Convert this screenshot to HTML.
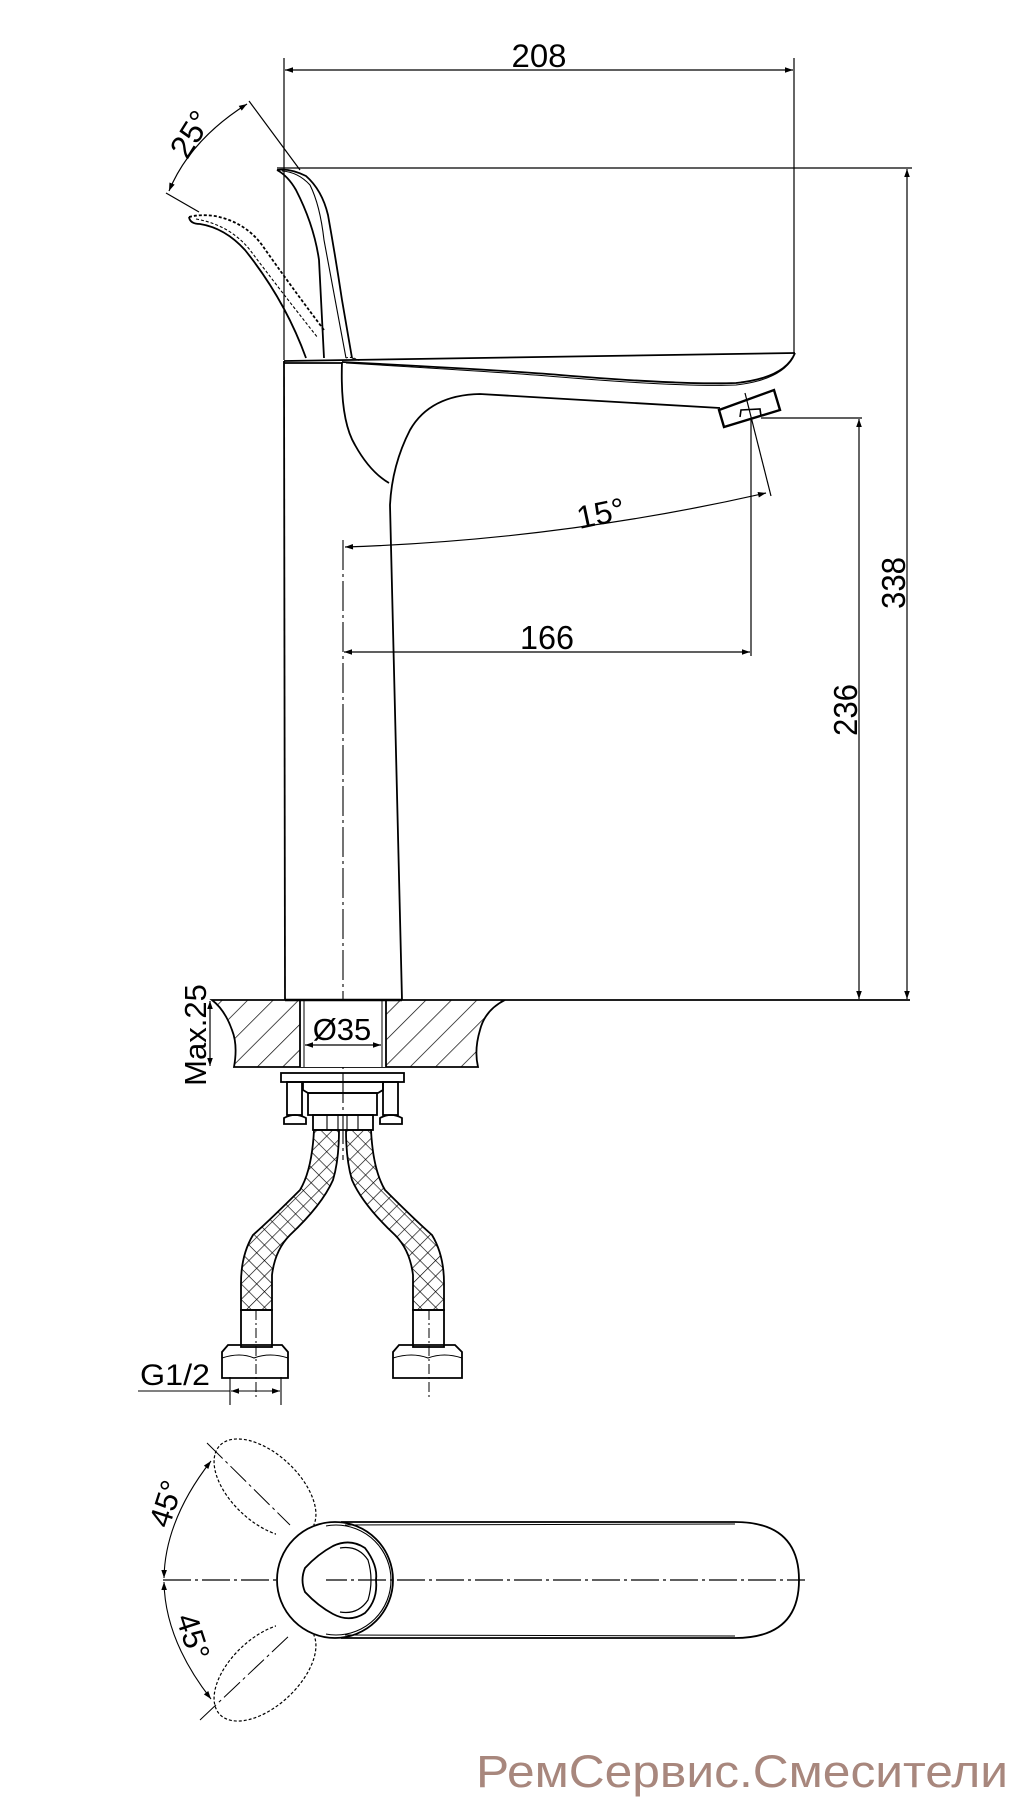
<!DOCTYPE html>
<html><head><meta charset="utf-8"><style>
html,body{margin:0;padding:0;background:#fff}
svg{display:block}
text{font-family:"Liberation Sans",sans-serif;fill:#000}
</style></head><body>
<svg width="1021" height="1800" viewBox="0 0 1021 1800" xmlns="http://www.w3.org/2000/svg">
<defs>
<marker id="a" viewBox="0 0 10 10" refX="10" refY="5" markerWidth="13" markerHeight="8" markerUnits="userSpaceOnUse" orient="auto-start-reverse"><path d="M0,1.5 L10,5 L0,8.5 z" fill="#000"/></marker>
<pattern id="h" width="18" height="18" patternUnits="userSpaceOnUse" patternTransform="rotate(45)"><line x1="0" y1="0" x2="0" y2="18" stroke="#000" stroke-width="1.4"/></pattern>
<pattern id="x" width="11" height="11" patternUnits="userSpaceOnUse" patternTransform="rotate(45)"><path d="M0,0 V11 M0,0 H11" stroke="#000" stroke-width="1.3" fill="none"/></pattern>
</defs>
<g fill="none" stroke="#000" stroke-width="1.8">
<line x1="284" y1="58" x2="284" y2="360" stroke-width="1.2"/>
<line x1="794" y1="58" x2="794" y2="354" stroke-width="1.2"/>
<line x1="285" y1="70" x2="793" y2="70" stroke-width="1.2" marker-start="url(#a)" marker-end="url(#a)"/>
<line x1="277" y1="168" x2="912" y2="168" stroke-width="1.2"/>
<line x1="907" y1="169" x2="907" y2="999" stroke-width="1.2" marker-start="url(#a)" marker-end="url(#a)"/>
<line x1="761" y1="418" x2="862" y2="418" stroke-width="1.2"/>
<line x1="859" y1="419" x2="859" y2="999" stroke-width="1.2" marker-start="url(#a)" marker-end="url(#a)"/>
<line x1="751" y1="418" x2="751" y2="656" stroke-width="1.2"/>
<line x1="344" y1="652" x2="750" y2="652" stroke-width="1.2" marker-start="url(#a)" marker-end="url(#a)"/>
<line x1="745" y1="393" x2="771" y2="496" stroke-width="1.2"/>
<path d="M766,493 Q560,540 345,547" stroke-width="1.2" marker-start="url(#a)" marker-end="url(#a)"/>
<line x1="249" y1="101" x2="300" y2="170" stroke-width="1.2"/>
<line x1="166" y1="193" x2="199" y2="212" stroke-width="1.2"/>
<path d="M247,104 Q190,140 169,191" stroke-width="1.2" marker-start="url(#a)" marker-end="url(#a)"/>
<path d="M277,170 Q290,168 306,176 Q322,190 328,215 Q336,260 342,300 L352,358" />
<path d="M282,171 Q298,172 310,185 Q320,205 324,240 L346,358" stroke-width="1.1"/>
<path d="M277,170 Q288,176 296,190 Q314,225 319,260 L324,358"/>
<path d="M189,217 Q200,214 215,216 Q245,222 262,245 Q290,285 324,330" stroke-dasharray="3,2"/>
<path d="M189,217 Q190,224 200,224 Q225,228 245,250 Q285,300 306,358" />
<path d="M196,219 Q230,225 250,250 Q280,290 318,338" stroke-dasharray="3,2" stroke-width="1.1"/>
<path d="M352,358 L358,360 M346,358 Q352,356 360,361" stroke-width="1" stroke-dasharray="2,2"/>
<path d="M284,361 L285,1000"/>
<line x1="284" y1="361" x2="795" y2="353"/>
<path d="M284,363 L342,363"/>
<path d="M342,362 Q500,370 560,375 Q680,385 736,383 Q785,378 795,353"/>
<path d="M346,363 Q500,372 560,377 Q680,387 736,385 Q780,380 793,358" stroke-width="1"/>
<path d="M342,362 Q340,420 355,445 Q370,472 389,483"/>
<path d="M720,408 L480,394 Q430,395 410,430 Q392,465 390,505 L402,1000"/>
<path d="M719,410 L774,390 L780,410 L724,427 Z" stroke-width="2.4"/>
<path d="M740,417 L741,410 L760,409 L761,416" stroke-width="1.6"/>
<line x1="343" y1="540" x2="343" y2="1160" stroke-width="1.1" stroke-dasharray="30,4,3,4"/>
<path d="M212,1000 L505,1000 Q485,1010 480,1030 Q474,1050 478,1067 L234,1067 Q238,1045 232,1030 Q225,1010 212,1000 Z" fill="url(#h)"/>
<rect x="300" y="1000" width="86" height="67" fill="#fff" stroke="none"/>
<line x1="505" y1="1000" x2="910" y2="1000"/>
<line x1="285" y1="1000" x2="402" y2="1000" stroke-width="2.4"/>
<line x1="300" y1="1000" x2="300" y2="1067"/><line x1="304" y1="1000" x2="304" y2="1067" stroke-width="1"/>
<line x1="382" y1="1000" x2="382" y2="1067" stroke-width="1"/><line x1="386" y1="1000" x2="386" y2="1067"/>
<line x1="305" y1="1045" x2="381" y2="1045" stroke-width="1.2" marker-start="url(#a)" marker-end="url(#a)"/>
<line x1="210" y1="1001" x2="210" y2="1066" stroke-width="1.2" marker-start="url(#a)" marker-end="url(#a)"/>
<rect x="281" y="1073" width="123" height="9"/>
<rect x="287" y="1082" width="15" height="33"/>
<path d="M284,1124 L284,1118 Q295,1112 306,1118 L306,1124 Z"/>
<rect x="383" y="1082" width="15" height="33"/>
<path d="M380,1124 L380,1118 Q391,1112 402,1118 L402,1124 Z"/>
<path d="M303,1082 L383,1082 L383,1090 L378,1093 L308,1093 L303,1090 Z"/>
<rect x="308" y="1093" width="69" height="22"/>
<rect x="313" y="1115" width="60" height="15"/>
<path d="M327,1115 V1130 M338,1115 V1130 M347,1115 V1130 M358,1115 V1130" stroke-width="1.1"/>
<path d="M314,1130 Q312,1170 300,1190 Q270,1220 253,1235 Q241,1255 241,1283 L241,1310 L272,1310 L272,1275 Q275,1250 290,1235 Q322,1205 333,1180 Q339,1160 339,1130 Z" fill="url(#x)"/>
<path d="M371,1130 Q373,1170 385,1190 Q415,1220 432,1235 Q444,1255 444,1283 L444,1310 L413,1310 L413,1275 Q410,1250 395,1235 Q363,1205 352,1180 Q346,1160 346,1130 Z" fill="url(#x)"/>
<rect x="241" y="1310" width="31" height="37"/>
<rect x="413" y="1310" width="31" height="37"/>
<line x1="256" y1="1310" x2="256" y2="1400" stroke-width="1" stroke-dasharray="10,3,2,3"/>
<line x1="429" y1="1310" x2="429" y2="1400" stroke-width="1" stroke-dasharray="10,3,2,3"/>
<path d="M222,1352 L228,1345 L282,1345 L288,1352 L288,1378 L222,1378 Z"/>
<path d="M222,1358 Q240,1352 254,1358 Q270,1352 288,1358" stroke-width="1.1"/>
<path d="M393,1352 L399,1345 L455,1345 L462,1352 L462,1378 L393,1378 Z"/>
<path d="M393,1358 Q412,1352 428,1358 Q444,1352 462,1358" stroke-width="1.1"/>
<line x1="230" y1="1377" x2="230" y2="1405" stroke-width="1.1"/>
<line x1="281" y1="1377" x2="281" y2="1405" stroke-width="1.1"/>
<line x1="138" y1="1391" x2="230" y2="1391" stroke-width="1.1"/>
<line x1="231" y1="1391" x2="280" y2="1391" stroke-width="1.1" marker-start="url(#a)" marker-end="url(#a)"/>
<line x1="163" y1="1580" x2="805" y2="1580" stroke-width="1.2" stroke-dasharray="28,4,3,4"/>
<path d="M341,1522 L735,1522 Q799,1522 799,1580 Q799,1638 735,1638 L341,1638"/>
<path d="M345,1525 L735,1524 M345,1635 L735,1636" stroke-width="1"/>
<circle cx="336" cy="1580" r="55" stroke-width="1.1"/>
<ellipse cx="265" cy="1488" rx="62" ry="34" transform="rotate(43 265 1488)" stroke-dasharray="3,2" stroke-width="1.2"/>
<ellipse cx="265" cy="1672" rx="62" ry="34" transform="rotate(-43 265 1672)" stroke-dasharray="3,2" stroke-width="1.2"/>
<rect x="276" y="1525" width="50" height="110" fill="#fff" stroke="none"/>
<circle cx="335" cy="1580" r="58"/>
<path d="M333,1546 Q350,1538 365,1548 Q378,1565 376,1580 Q378,1600 365,1613 Q350,1623 333,1614 Q318,1606 305,1592 Q300,1580 305,1568 Q318,1554 333,1546 Z"/>
<path d="M340,1548 Q358,1545 368,1560 Q374,1580 368,1600 Q358,1615 340,1612" stroke-width="1.2"/>
<line x1="207" y1="1443" x2="290" y2="1525" stroke-width="1" stroke-dasharray="22,4,3,4"/>
<line x1="200" y1="1720" x2="290" y2="1635" stroke-width="1" stroke-dasharray="22,4,3,4"/>
<path d="M211,1461 Q165,1520 164,1578" stroke-width="1.1" marker-start="url(#a)" marker-end="url(#a)"/>
<path d="M164,1582 Q165,1640 211,1699" stroke-width="1.1" marker-start="url(#a)" marker-end="url(#a)"/>
</g>
<text x="539" y="67" font-size="32" text-anchor="middle" textLength="55" lengthAdjust="spacingAndGlyphs">208</text>
<text x="547" y="649" font-size="33" text-anchor="middle" textLength="54" lengthAdjust="spacingAndGlyphs">166</text>
<text transform="translate(905,583) rotate(-90)" font-size="33" text-anchor="middle" textLength="52" lengthAdjust="spacingAndGlyphs">338</text>
<text transform="translate(857,710) rotate(-90)" font-size="33" text-anchor="middle" textLength="52" lengthAdjust="spacingAndGlyphs">236</text>
<text transform="translate(603,524) rotate(-12)" font-size="32" text-anchor="middle">15°</text>
<text transform="translate(200,140) rotate(-58)" font-size="32" text-anchor="middle">25°</text>
<text x="342" y="1040" font-size="31" text-anchor="middle">Ø35</text>
<text transform="translate(206,1035) rotate(-90)" font-size="31" text-anchor="middle">Max.25</text>
<text x="140" y="1385" font-size="30" textLength="70" lengthAdjust="spacingAndGlyphs">G1/2</text>
<text transform="translate(176,1507) rotate(-72)" font-size="31" text-anchor="middle">45°</text>
<text transform="translate(183,1640) rotate(72)" font-size="31" text-anchor="middle">45°</text>
<text x="476" y="1787" font-size="45" fill="#a8877d" style="fill:#a8877d" textLength="532" lengthAdjust="spacingAndGlyphs">РемСервис.Смесители</text>
</svg>
</body></html>
